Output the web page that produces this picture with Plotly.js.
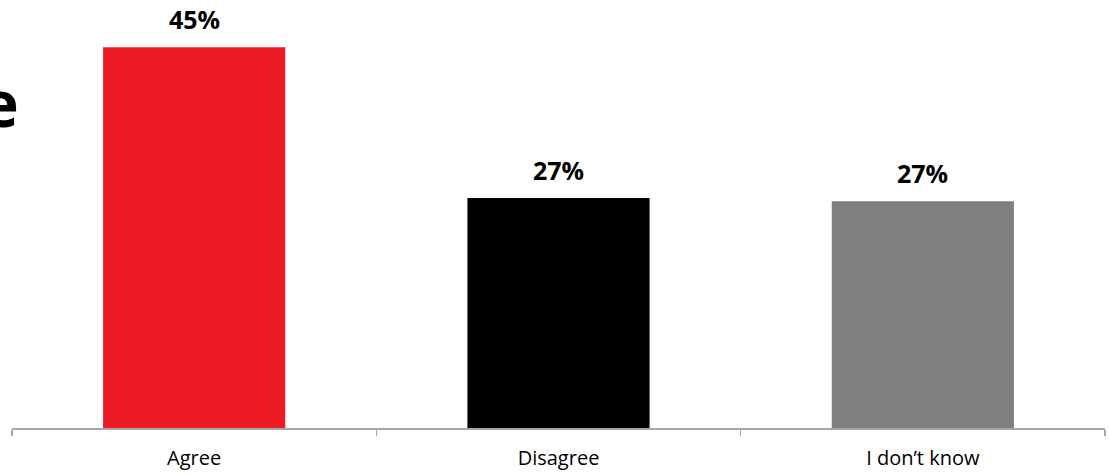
<!DOCTYPE html>
<html>
<head>
<meta charset="utf-8">
<script src="https://cdn.plot.ly/plotly-3.0.1.min.js"></script>
<style>
  html, body { margin: 0; padding: 0; background: #ffffff; }
  #chart { width: 1109px; height: 475px; }
</style>
</head>
<body>
<div id="chart"></div>
<script>
const categories = ["Agree", "Disagree", "I don\u2019t know"];
const values = [45, 27.2, 26.8];
const valueLabels = ["45%", "27%", "27%"];
const barColors = ["#ED1C24", "#000000", "#7F7F7F"];
const titleTail = "e";

const trace = {
  type: "bar",
  x: categories,
  y: values,
  marker: { color: barColors },
  width: 0.5,
  hoverinfo: "skip"
};

const labelAnnotations = categories.map((c, i) => ({
  x: c,
  y: values[i],
  xref: "x", yref: "y",
  text: valueLabels[i],
  showarrow: false,
  xanchor: "center",
  yanchor: "bottom",
  yshift: 9,
  font: { family: "Open Sans, sans-serif", size: 25, color: "#000000", weight: 700 }
}));

const layout = {
  width: 1109,
  height: 475,
  margin: { l: 12, r: 4, t: 5, b: 47 },
  paper_bgcolor: "#ffffff",
  plot_bgcolor: "#ffffff",
  showlegend: false,
  bargap: 0.5,
  xaxis: {
    type: "category",
    range: [-0.5, 2.5],
    showline: true,
    linecolor: "#A6A6A6",
    linewidth: 1.5,
    ticks: "outside",
    tickson: "boundaries",
    ticklen: 6,
    tickcolor: "#A6A6A6",
    tickwidth: 1.5,
    showgrid: false,
    zeroline: false,
    tickfont: { family: "Open Sans, sans-serif", size: 20, color: "#000000" },
    ticklabelstandoff: 11
  },
  yaxis: {
    range: [0, 50],
    visible: false,
    showgrid: false,
    zeroline: false
  },
  annotations: labelAnnotations.concat([{
    text: titleTail,
    xref: "paper", yref: "paper",
    x: 0.008, y: 0.77,
    xanchor: "right", yanchor: "middle",
    showarrow: false,
    font: { family: "Open Sans, sans-serif", size: 64, color: "#000000", weight: 700 }
  }])
};

Plotly.newPlot("chart", [trace], layout, { displayModeBar: false, staticPlot: true });
</script>
</body>
</html>
